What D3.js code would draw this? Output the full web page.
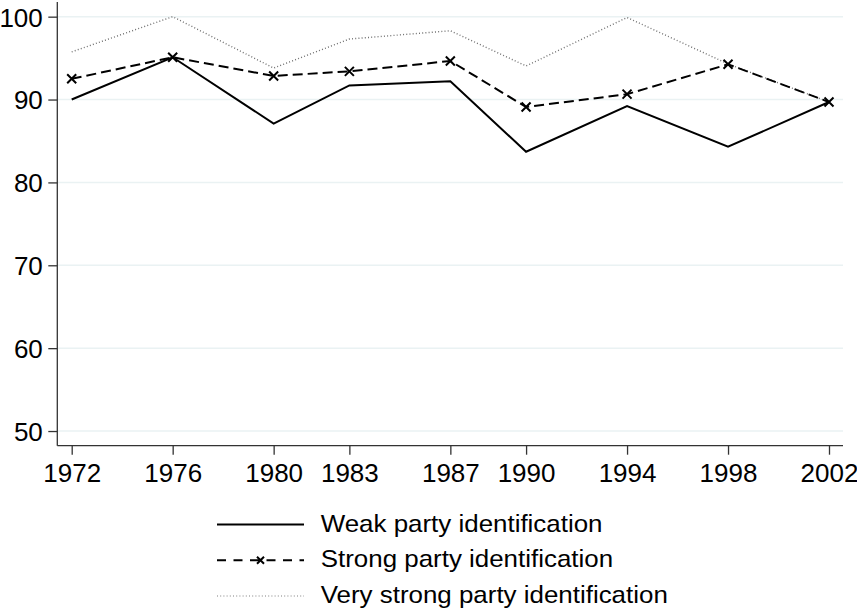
<!DOCTYPE html>
<html>
<head>
<meta charset="utf-8">
<script src="https://cdn.jsdelivr.net/npm/d3@7"></script>
<style>
  body { margin: 0; background: #fff; }
  svg { display: block; font-family: "Liberation Sans", Arial, sans-serif; }
</style>
</head>
<body>
<div id="chart"></div>
<script>
// Turnout by party identification strength
const years = [1972, 1976, 1980, 1983, 1987, 1990, 1994, 1998, 2002];
const weak = [90.0, 95.1, 87.1, 91.7, 92.2, 83.7, 89.2, 84.3, 89.7];
const strong = [92.5, 95.1, 92.85, 93.4, 94.65, 89.1, 90.65, 94.25, 89.7];
const veryStrong = [95.75, 100, 93.8, 97.3, 98.3, 94.05, 99.9, 94.3, 89.7];
const yTicks = [50, 60, 70, 80, 90, 100];
const seriesNames = ['Weak party identification', 'Strong party identification', 'Very strong party identification'];

const W = 857, H = 612;
const plot = { left: 57.3, right: 843, top: 2, bottom: 445.7 };

const svg = d3.select('#chart').append('svg')
  .attr('width', W).attr('height', H);

const x = d3.scaleLinear().domain([1972, 2002]).range([71.7, 829]);
const y = d3.scaleLinear().domain([48.23, 101.77]).range([plot.bottom, plot.top]);

// gridlines
svg.append('g').selectAll('line')
  .data(yTicks).join('line')
  .attr('x1', plot.left).attr('x2', plot.right)
  .attr('y1', d => y(d)).attr('y2', d => y(d))
  .attr('stroke', '#eaf2f3').attr('stroke-width', 1.5);

// y axis
const yAxis = svg.append('g')
  .attr('transform', `translate(${plot.left},0)`)
  .call(d3.axisLeft(y).tickValues(yTicks).tickSize(9).tickPadding(5.5));
yAxis.select('.domain').attr('d', `M0,${plot.top}V${plot.bottom}`);

// x axis
const xAxis = svg.append('g')
  .attr('transform', `translate(0,${plot.bottom})`)
  .call(d3.axisBottom(x).tickValues(years).tickFormat(d3.format('d')).tickSize(9).tickPadding(9));
xAxis.select('.domain').attr('d', `M${plot.left},0H${plot.right}`);

[yAxis, xAxis].forEach(a => {
  a.select('.domain').attr('stroke', '#333').attr('stroke-width', 1.3);
  a.selectAll('.tick line').attr('stroke', '#333').attr('stroke-width', 1.3);
  a.selectAll('.tick text').attr('fill', '#000').attr('font-size', '26px')
    .attr('font-family', '"Liberation Sans", Arial, sans-serif');
});
yAxis.selectAll('.tick text').attr('dy', '0.36em');

const line = d3.line().x((d, i) => x(years[i])).y(d => y(d));

// very strong (dotted gray)
svg.append('path').datum(veryStrong)
  .attr('d', line).attr('fill', 'none')
  .attr('stroke', '#707070').attr('stroke-width', 1.4)
  .attr('stroke-dasharray', '1,2.2');

// weak (solid)
svg.append('path').datum(weak)
  .attr('d', line).attr('fill', 'none')
  .attr('stroke', '#000').attr('stroke-width', 2);

// strong (dashed + x markers)
svg.append('path').datum(strong)
  .attr('d', line).attr('fill', 'none')
  .attr('stroke', '#000').attr('stroke-width', 2)
  .attr('stroke-dasharray', '10,5');

const xMark = (cx, cy, r) => `M${cx - r},${cy - r}L${cx + r},${cy + r}M${cx - r},${cy + r}L${cx + r},${cy - r}`;

svg.append('g').selectAll('path')
  .data(strong).join('path')
  .attr('d', (d, i) => xMark(x(years[i]), y(d), 4.5))
  .attr('stroke', '#000').attr('stroke-width', 2);

// legend
const legend = svg.append('g');
const rowY = [524.5, 560.3, 596];
const symX0 = 217, symX1 = 304, textX = 320.7;

legend.append('line')
  .attr('x1', symX0).attr('x2', symX1).attr('y1', rowY[0]).attr('y2', rowY[0])
  .attr('stroke', '#000').attr('stroke-width', 2);
legend.append('line')
  .attr('x1', symX0).attr('x2', symX1).attr('y1', rowY[1]).attr('y2', rowY[1])
  .attr('stroke', '#000').attr('stroke-width', 2).attr('stroke-dasharray', '9,7.5');
legend.append('path')
  .attr('d', xMark((symX0 + symX1) / 2, rowY[1], 3.5))
  .attr('stroke', '#000').attr('stroke-width', 2);
legend.append('line')
  .attr('x1', symX0).attr('x2', symX1).attr('y1', rowY[2]).attr('y2', rowY[2])
  .attr('stroke', '#808080').attr('stroke-width', 1.2).attr('stroke-dasharray', '1,2.2');

legend.selectAll('text')
  .data(seriesNames).join('text')
  .attr('transform', (d, i) => `translate(${textX},${rowY[i] + 7}) scale(1.08,1)`)
  .attr('font-size', '24px').attr('fill', '#000')
  .text(d => d);
</script>
</body>
</html>
